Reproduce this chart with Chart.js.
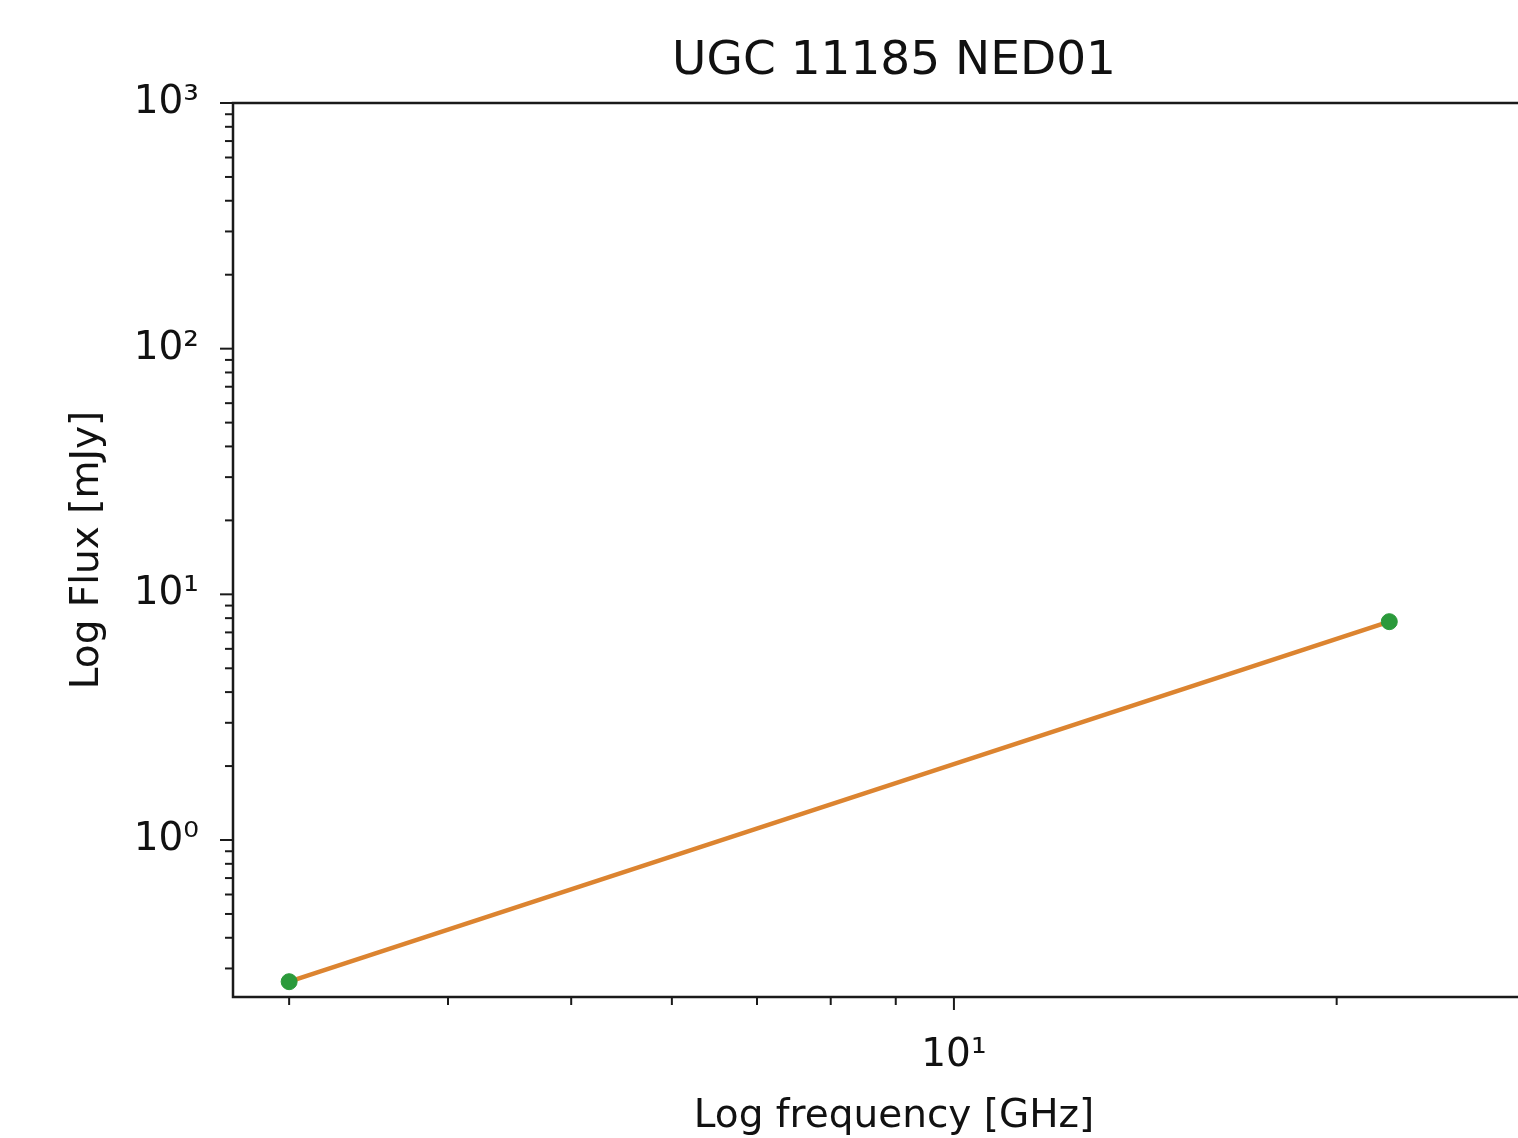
<!DOCTYPE html>
<html>
<head>
<meta charset="utf-8">
<script src="https://cdn.jsdelivr.net/npm/chart.js@4/dist/chart.umd.min.js"></script>
<style>
  html, body { margin: 0; padding: 0; overflow: hidden; background: #fff; }
  #wrap { position: absolute; left: 0; top: 0; width: 1788px; height: 1138px; }
</style>
</head>
<body>
<div id="wrap"><canvas id="sed_chart"></canvas></div>
<script>
// measured points (GHz, mJy)
var freqGHz = [3.0, 22.0];
var fluxMJy = [0.265, 7.74];
// power-law fit drawn through the same range
var fitFreq = [3.0, 22.0];
var fitFlux = [0.265, 7.74];
// axis limits
var xRange = [2.71, 29.7];
var yRange = [0.2296, 1000];
var supDigits = ['⁰', '¹', '²', '³', '⁴', '⁵', '⁶', '⁷', '⁸', '⁹'];

function powerLabel(v) {
    var e = Math.log10(v);
    if (Math.abs(e - Math.round(e)) > 1e-9) return '';
    var n = Math.round(e);
    return '10' + (n < 0 ? '⁻' : '') + String(Math.abs(n)).split('').map(function (d) { return supDigits[+d]; }).join('');
}

// 1..9 x 10^n ticks inside the scale range, like matplotlib's log locator
function logTicks(scale) {
    var out = [];
    for (var e = Math.floor(Math.log10(scale.min)); e <= Math.ceil(Math.log10(scale.max)); e++) {
        for (var m = 1; m < 10; m++) {
            var v = parseFloat((m * Math.pow(10, e)).toPrecision(12));
            if (v >= scale.min && v <= scale.max) out.push({value: v, major: m === 1});
        }
    }
    scale.ticks = out;
}

function toPoints(xs, ys) {
    return xs.map(function (x, i) { return {x: x, y: ys[i]}; });
}

// matplotlib-like frame plus major/minor tick marks, placed through the scales
var frameTicks = {
    id: 'frameTicks',
    afterDraw: function (chart) {
        var ctx = chart.ctx, a = chart.chartArea;
        ctx.save();
        ctx.strokeStyle = '#1a1a1a';
        ctx.lineWidth = 2;
        ['x', 'y'].forEach(function (id) {
            var s = chart.scales[id];
            s.ticks.forEach(function (t) {
                var len = t.major ? 13 : 8;
                var p = s.getPixelForValue(t.value);
                ctx.beginPath();
                if (id === 'x') { ctx.moveTo(p, a.bottom); ctx.lineTo(p, a.bottom + len); }
                else { ctx.moveTo(a.left, p); ctx.lineTo(a.left - len, p); }
                ctx.stroke();
            });
        });
        ctx.lineWidth = 2.5;
        ctx.strokeRect(a.left, a.top, a.right - a.left, a.bottom - a.top);
        ctx.restore();
    }
};

var ctx = document.getElementById('sed_chart').getContext('2d');
var sed_chart = new Chart(ctx, {
    type: 'scatter',
    data: {
        datasets: [{
            label: 'data',
            data: toPoints(freqGHz, fluxMJy),
            backgroundColor: '#2b9a3b',
            borderColor: '#2b9a3b',
            pointRadius: 8,
            order: 0
        }, {
            label: 'fit',
            data: toPoints(fitFreq, fitFlux),
            showLine: true,
            borderColor: '#dc8430',
            borderWidth: 4.5,
            pointRadius: 0,
            order: 1
        }]
    },
    options: {
        responsive: true,
        maintainAspectRatio: false,
        animation: false,
        layout: { padding: 0 },
        plugins: {
            legend: { display: false },
            tooltip: { enabled: false },
            title: {
                display: true,
                text: 'UGC 11185 NED01',
                color: '#111',
                font: { family: 'DejaVu Sans', size: 47, weight: 'normal' },
                padding: { top: 34, bottom: 12.6 }
            }
        },
        scales: {
            x: {
                type: 'logarithmic',
                min: xRange[0],
                max: xRange[1],
                afterBuildTicks: logTicks,
                grid: { display: false, drawTicks: false },
                border: { display: false },
                ticks: {
                    autoSkip: false,
                    maxRotation: 0,
                    padding: 35,
                    color: '#111',
                    font: { family: 'DejaVu Sans', size: 39 },
                    callback: powerLabel
                },
                title: {
                    display: true,
                    text: 'Log frequency [GHz]',
                    color: '#111',
                    font: { family: 'DejaVu Sans', size: 39 },
                    padding: { top: 0, bottom: -2 }
                },
                afterFit: function (scale) { scale.height = 141; }
            },
            y: {
                type: 'logarithmic',
                min: yRange[0],
                max: yRange[1],
                afterBuildTicks: logTicks,
                grid: { display: false, drawTicks: false },
                border: { display: false },
                ticks: {
                    autoSkip: false,
                    padding: 34,
                    color: '#111',
                    font: { family: 'DejaVu Sans', size: 39 },
                    callback: powerLabel
                },
                title: {
                    display: true,
                    text: 'Log Flux [mJy]',
                    color: '#111',
                    font: { family: 'DejaVu Sans', size: 39 },
                    padding: { top: 64.6, bottom: 0 }
                },
                afterFit: function (scale) { scale.width = 233; }
            },
            // empty right-hand margin so the title centres over the axes
            yPad: {
                type: 'linear',
                position: 'right',
                grid: { display: false, drawTicks: false },
                border: { display: false },
                ticks: { display: false },
                afterFit: function (scale) { scale.width = 233; }
            }
        }
    },
    plugins: [frameTicks]
});
</script>
</body>
</html>
